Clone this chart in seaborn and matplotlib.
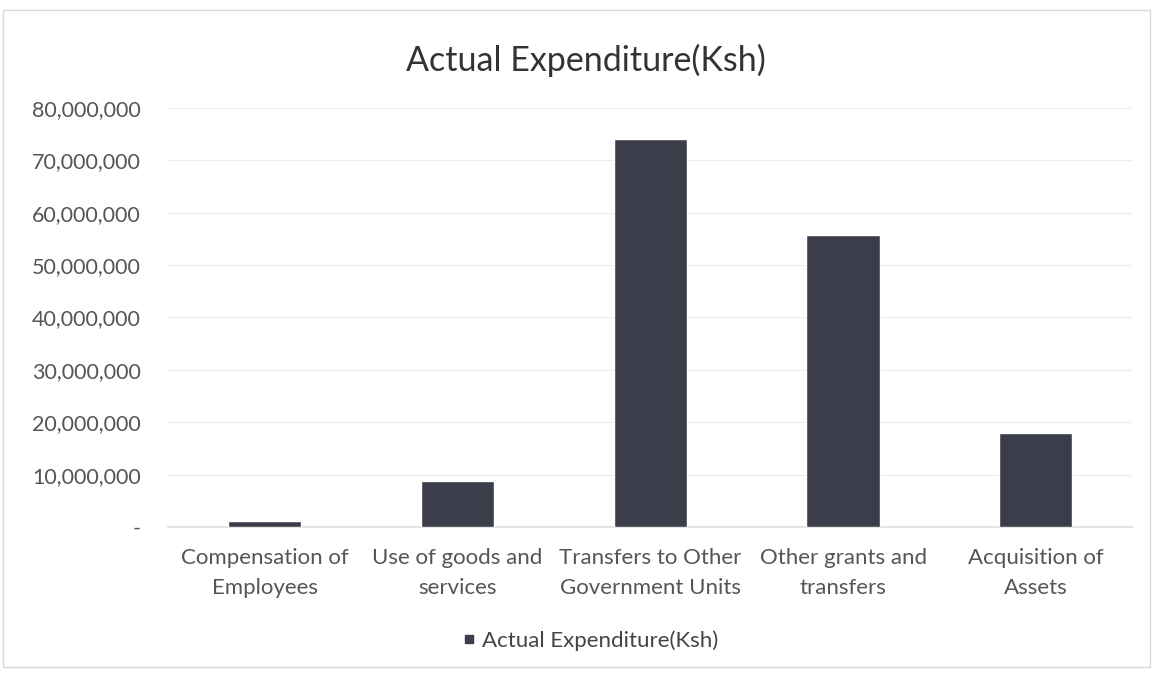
import pandas as pd
import matplotlib.pyplot as plt
import matplotlib.ticker as mticker
import seaborn as sns

categories = ["Compensation of\nEmployees", "Use of goods and\nservices",
              "Transfers to Other\nGovernment Units", "Other grants and\ntransfers",
              "Acquisition of\nAssets"]
expenditure = [1200000, 8800000, 74000000, 55800000, 18000000]
series_name = "Actual Expenditure(Ksh)"

df = pd.DataFrame({"Category": categories, "Amount": expenditure})

sns.set_theme(style="white")
plt.rcParams['font.family'] = ['Lato', 'DejaVu Sans']

fig = plt.figure(figsize=(11.53, 6.74), dpi=100)
ax = fig.add_axes([0.146, 0.218, 0.836, 0.622])

bar_color = "#3b3e4a"
sns.barplot(data=df, x="Category", y="Amount", color=bar_color, width=0.38,
            saturation=1, ax=ax, zorder=3)

ax.set_ylim(0, 80000000)
ax.set_yticks(range(0, 80000001, 10000000))
ax.yaxis.set_major_formatter(mticker.FuncFormatter(lambda v, p: "-" if v == 0 else f"{int(v):,}"))
ax.grid(axis="y", color="#ececec", linewidth=0.8, zorder=0)
for s in ax.spines.values():
    s.set_visible(False)
ax.spines["bottom"].set_visible(True)
ax.spines["bottom"].set_color("#e0e0e0")
ax.tick_params(axis="both", length=0, colors="#555555")
ax.tick_params(axis="x", pad=15, labelsize=16)
ax.tick_params(axis="y", pad=20, labelsize=15.5)
for lbl in ax.get_xticklabels():
    lbl.set_linespacing(1.6)
ax.set_xlabel("")
ax.set_ylabel("")

fig.suptitle(series_name, x=0.508, y=0.935, fontsize=24.5, color="#333333")

handle = plt.Line2D([], [], marker="s", linestyle="", color=bar_color, markersize=6)
fig.legend([handle], [series_name], loc="center", bbox_to_anchor=(0.512, 0.05),
           frameon=False, fontsize=16, handlelength=0.6, handletextpad=0.3,
           labelcolor="#444444")

border = plt.Rectangle((0.003, 0.01), 0.994, 0.975, transform=fig.transFigure,
                       fill=False, edgecolor="#d9d9d9", linewidth=1)
fig.add_artist(border)

fig.savefig("out.png", dpi=100)
